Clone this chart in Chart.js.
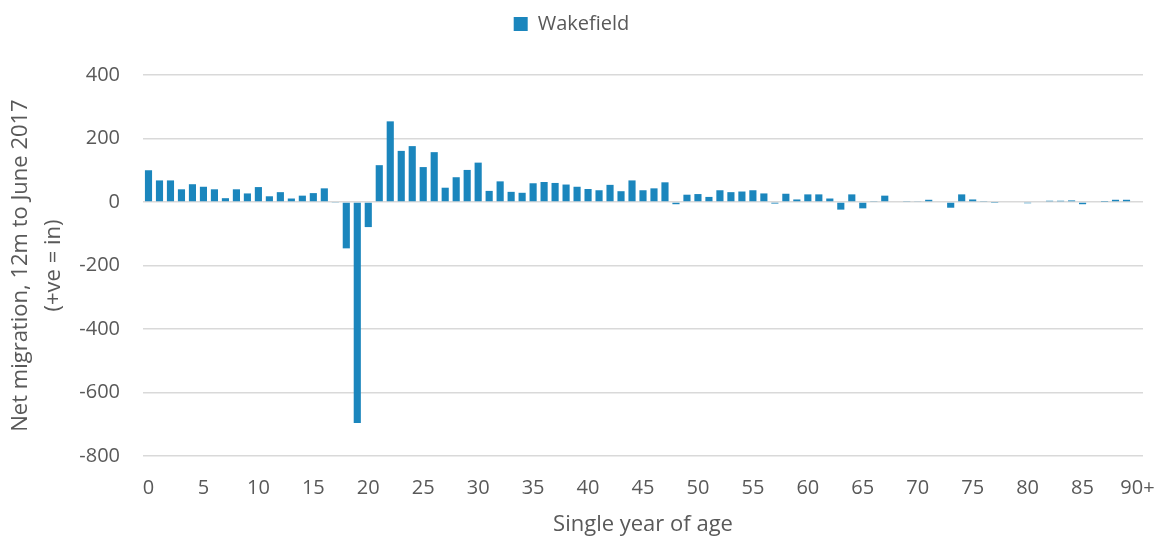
<!DOCTYPE html>
<html>
<head>
<meta charset="utf-8">
<script src="https://cdn.jsdelivr.net/npm/chart.js@4/dist/chart.umd.min.js"></script>
<style>
  html, body { margin: 0; padding: 0; background: #fff; }
  #wrap { width: 1162px; height: 538px; }
</style>
</head>
<body>
<div id="wrap"><canvas id="chart" width="1162" height="538"></canvas></div>
<script>
const seriesName = "Wakefield";

// single year of age, 0 .. 90+
const ages = Array.from({ length: 90 }, (_, i) => String(i)).concat(["90+"]);

const netMigration = [
  100, 68, 68, 40, 56, 48, 40, 12, 40, 27,
  47, 18, 31, 11, 20, 28, 43, -3, -146, -696,
  -79, 116, 254, 161, 176, 110, 157, 45, 78, 101,
  124, 35, 65, 32, 29, 59, 63, 60, 55, 48,
  41, 37, 54, 34, 68, 37, 43, 62, -7, 23,
  25, 16, 37, 31, 33, 37, 27, -5, 26, 8,
  24, 24, 11, -24, 24, -20, 3, 20, 0, 3,
  2, 7, 0, -18, 24, 8, 3, -1, 0, 0,
  -4, 0, 4, 4, 5, -7, 0, 1, 7, 7,
  0
];

const yTicks = [400, 200, 0, -200, -400, -600, -800];

const textColor = "#595959";
const barColor = "#1b86bd";
const fontFamily = "'Open Sans', sans-serif";

// leave some room between the legend and the plot
const legendGap = {
  id: "legendGap",
  afterInit(chart) {
    const legend = chart.legend;
    if (!legend) {
      return;
    }
    const fit = legend.fit.bind(legend);
    legend.fit = function() {
      fit();
      this.height += 31;
    };
  }
};

new Chart(document.getElementById("chart"), {
  type: "bar",
  data: {
    labels: ages,
    datasets: [
      {
        label: seriesName,
        data: netMigration,
        backgroundColor: barColor,
        borderWidth: 0,
        barPercentage: 0.65,
        categoryPercentage: 1
      }
    ]
  },
  options: {
    responsive: false,
    animation: false,
    layout: {
      padding: { left: 0, right: 19, top: 4, bottom: 0 }
    },
    scales: {
      y: {
        min: -800,
        max: 400,
        border: { display: false },
        grid: {
          color: "#d9d9d9",
          lineWidth: 1.5,
          drawTicks: false
        },
        afterBuildTicks: axis => {
          axis.ticks = yTicks.map(v => ({ value: v }));
        },
        afterFit: axis => {
          axis.width = 143;
        },
        ticks: {
          color: textColor,
          padding: 23,
          font: { family: fontFamily, size: 20 }
        },
        title: {
          display: true,
          text: ["Net migration, 12m to June 2017", "(+ve = in)"],
          color: textColor,
          padding: { top: 4, bottom: 0 },
          font: { family: fontFamily, size: 22, lineHeight: 1.5 }
        }
      },
      x: {
        border: { display: false },
        grid: { display: false, drawTicks: false },
        afterFit: axis => {
          axis.height = 82;
          axis.paddingLeft = 0;
          axis.paddingRight = 0;
        },
        ticks: {
          color: textColor,
          autoSkip: false,
          maxRotation: 0,
          padding: 20,
          font: { family: fontFamily, size: 20 },
          callback: function(value, index) {
            return index % 5 === 0 ? ages[index] : "";
          }
        },
        title: {
          display: true,
          text: "Single year of age",
          color: textColor,
          padding: { top: 0, bottom: 0 },
          font: { family: fontFamily, size: 22 }
        }
      }
    },
    plugins: {
      legend: {
        position: "top",
        labels: {
          color: textColor,
          boxWidth: 14,
          boxHeight: 14,
          padding: 10,
          font: { family: fontFamily, size: 20 }
        }
      },
      tooltip: { enabled: false }
    }
  },
  plugins: [legendGap]
});
</script>
</body>
</html>
